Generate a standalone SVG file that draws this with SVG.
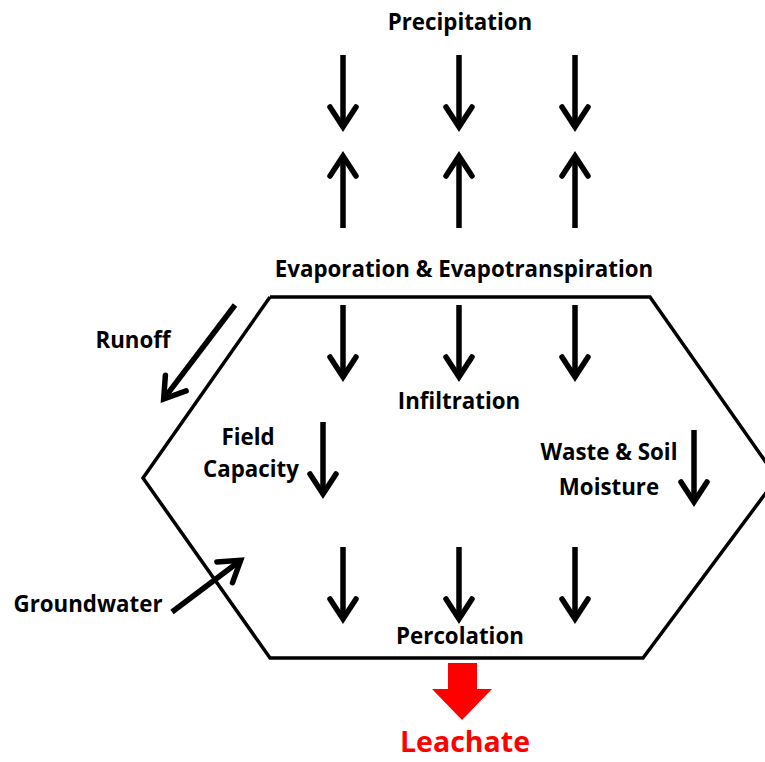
<svg xmlns="http://www.w3.org/2000/svg" width="765" height="762" viewBox="0 0 765 762">
<style>
.t{font-family:"Open Sans",Lato,"Liberation Sans",sans-serif;font-weight:bold;font-size:22.3px;fill:#000;text-anchor:middle}
.a{stroke:#000;stroke-width:5.5;fill:none;stroke-linecap:butt}
.h{stroke:#000;stroke-width:5.5;fill:none;stroke-linecap:round;stroke-linejoin:miter}
.edge{stroke:#000;stroke-width:3.5;fill:none;stroke-linejoin:miter}
</style>
<defs>
<g id="down"><line class="a" x1="0" y1="0" x2="0" y2="70"/><polyline class="h" points="-13,52 0,72 13,52"/></g>
<g id="up"><line class="a" x1="0" y1="0" x2="0" y2="-70"/><polyline class="h" points="-13,-52 0,-72 13,-52"/></g>
</defs>
<rect width="765" height="762" fill="#fff"/>
<g id="landfill">
<polyline class="edge" points="270,297 650,297 777,478 643,658 270,658 143,478 270,297"/>
</g>
<g id="connectors">
<use href="#down" x="343" y="55"/><use href="#down" x="459" y="55"/><use href="#down" x="575" y="55"/>
<use href="#up" x="343" y="228"/><use href="#up" x="459" y="228"/><use href="#up" x="575" y="228"/>
<use href="#down" x="343" y="305"/><use href="#down" x="459" y="305"/><use href="#down" x="575" y="305"/>
<use href="#down" x="323" y="422"/>
<use href="#down" x="694" y="430"/>
<use href="#down" x="343" y="547"/><use href="#down" x="459" y="547"/><use href="#down" x="575" y="547"/>
<g transform="translate(235,305) rotate(37.2)"><line class="a" x1="0" y1="0" x2="0" y2="116"/><polyline class="h" points="-13,98 0,118 13,98"/></g>
<g transform="translate(172,612) rotate(-127)"><line class="a" x1="0" y1="0" x2="0" y2="84"/><polyline class="h" points="-13,66 0,86 13,66"/></g>
<polygon points="448,663 477,663 477,689 492,689 462,720 432,689 448,689" fill="#f00"/>
</g>
<g id="precipitation"><text class="t" x="460" y="30">Precipitation</text></g>
<g id="evaporation"><text class="t" x="464" y="277">Evaporation &amp; Evapotranspiration</text></g>
<g id="runoff"><text class="t" x="133" y="348">Runoff</text></g>
<g id="infiltration"><text class="t" x="459" y="409">Infiltration</text></g>
<g id="field-capacity"><text class="t" x="248" y="445">Field</text><text class="t" x="251" y="477">Capacity</text></g>
<g id="waste-soil-moisture"><text class="t" x="609" y="460">Waste &amp; Soil</text><text class="t" x="609" y="495">Moisture</text></g>
<g id="groundwater"><text class="t" x="88" y="612">Groundwater</text></g>
<g id="percolation"><text class="t" x="460" y="644">Percolation</text></g>
<g id="leachate"><text class="t" x="465" y="752" style="font-size:28.5px;fill:#f00">Leachate</text></g>
</svg>
